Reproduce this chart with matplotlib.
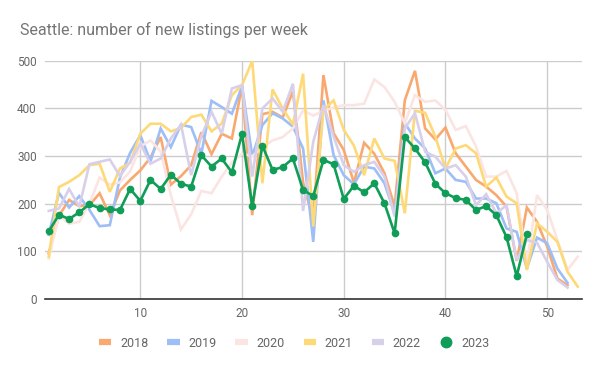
import matplotlib
matplotlib.use("Agg")
import matplotlib.pyplot as plt
from matplotlib.lines import Line2D

plt.rcParams['font.family'] = ['Roboto', 'DejaVu Sans']

title = "Seattle: number of new listings per week"
labels = ["2018", "2019", "2020", "2021", "2022", "2023"]
colors = ["#F9A86F", "#9DBEF6", "#FBE5E3", "#FDD977", "#D8D0EA", "#0F9D58"]

y2018 = [96, 175, 208, 195, 197, 222, 176, 228, 250, 270, 297, 340, 240, 258, 281, 350,
         304, 347, 337, 447, 176, 388, 393, 381, 436, 245, 166, 470, 348, 313, 244, 328,
         305, 264, 194, 417, 479, 358, 335, 360, 306, 278, 250, 236, 218, 194, 80, 192,
         162, 110, 43, 29]
y2019 = [135, 223, 192, 216, 187, 153, 155, 255, 307, 344, 289, 358, 319, 366, 361, 305,
         416, 403, 389, 447, 300, 365, 390, 379, 362, 316, 120, 417, 302, 260, 241, 278,
         274, 243, 180, 369, 337, 316, 264, 274, 250, 246, 211, 211, 201, 148, 141, 64,
         129, 117, 64, 34]
y2020 = [85, 176, 158, 162, 200, 255, 240, 245, 268, 320, 333, 310, 218, 146, 178, 227,
         222, 257, 287, 305, 300, 318, 333, 340, 358, 396, 385, 395, 402, 407, 407, 410,
         461, 445, 414, 369, 428, 414, 417, 397, 355, 363, 320, 257, 257, 269, 222, 75,
         218, 187, 124, 61, 89]
y2021 = [89, 235, 246, 260, 281, 284, 225, 274, 286, 347, 368, 368, 352, 359, 382, 387,
         352, 368, 428, 449, 500, 243, 440, 400, 366, 473, 152, 397, 417, 355, 322, 260,
         337, 295, 290, 180, 395, 391, 341, 274, 316, 323, 306, 236, 255, 215, 201, 61,
         159, 141, 120, 57, 26]
y2022 = [185, 190, 231, 194, 283, 288, 293, 258, 288, 326, 284, 295, 337, 366, 260, 342,
         393, 347, 442, 449, 257, 400, 421, 393, 452, 185, 330, 407, 341, 281, 267, 281,
         288, 257, 173, 358, 390, 309, 299, 274, 281, 257, 197, 220, 180, 197, 82, 124,
         118, 78, 40, 24]
y2023 = [142, 177, 168, 182, 199, 191, 188, 187, 231, 206, 250, 231, 261, 242, 236, 302,
         278, 295, 266, 347, 195, 322, 271, 277, 295, 229, 216, 292, 283, 210, 238, 224,
         243, 201, 138, 340, 316, 287, 242, 222, 212, 208, 187, 195, 176, 130, 48, 136]

series = [y2018, y2019, y2020, y2021, y2022, y2023]

fig = plt.figure(figsize=(6.0, 3.71), dpi=100)
ax = fig.add_axes([0.075, 0.194, 0.895, 0.642])

for vals, c, lab in zip(series[:5], colors[:5], labels[:5]):
    ax.plot(range(1, len(vals) + 1), vals, color=c, lw=1.9, solid_joinstyle='miter', zorder=2)
ax.plot(range(1, len(y2023) + 1), y2023, color=colors[5], lw=1.9, marker='o',
        markersize=4.5, zorder=3)

ax.set_xlim(0.63, 53.42)
ax.set_ylim(0, 500)
ax.set_xticks([10, 20, 30, 40, 50])
ax.set_yticks([0, 100, 200, 300, 400, 500])
ax.grid(True, color="#CCCCCC", lw=1.0, zorder=0)
ax.set_axisbelow(True)
for s in ["top", "right", "left"]:
    ax.spines[s].set_visible(False)
ax.spines["bottom"].set_color("#333333")
ax.spines["bottom"].set_linewidth(1.2)
ax.tick_params(length=0, labelsize=8.5, colors="#666666", pad=6)

fig.text(0.033, 0.905, title, fontsize=11.5, color="#757575", ha='left', va='baseline')

handles = [Line2D([], [], color=c, lw=4.5, solid_capstyle='butt') for c in colors[:5]]
handles.append(Line2D([], [], color=colors[5], lw=0, marker='o', markersize=7.5))
leg = fig.legend(handles, labels, loc='center', bbox_to_anchor=(0.49, 0.075), ncol=6,
                 frameon=False, fontsize=9, handlelength=1.0, handletextpad=0.7,
                 columnspacing=1.5, labelcolor="#666666")

fig.savefig("out.png", dpi=100)
